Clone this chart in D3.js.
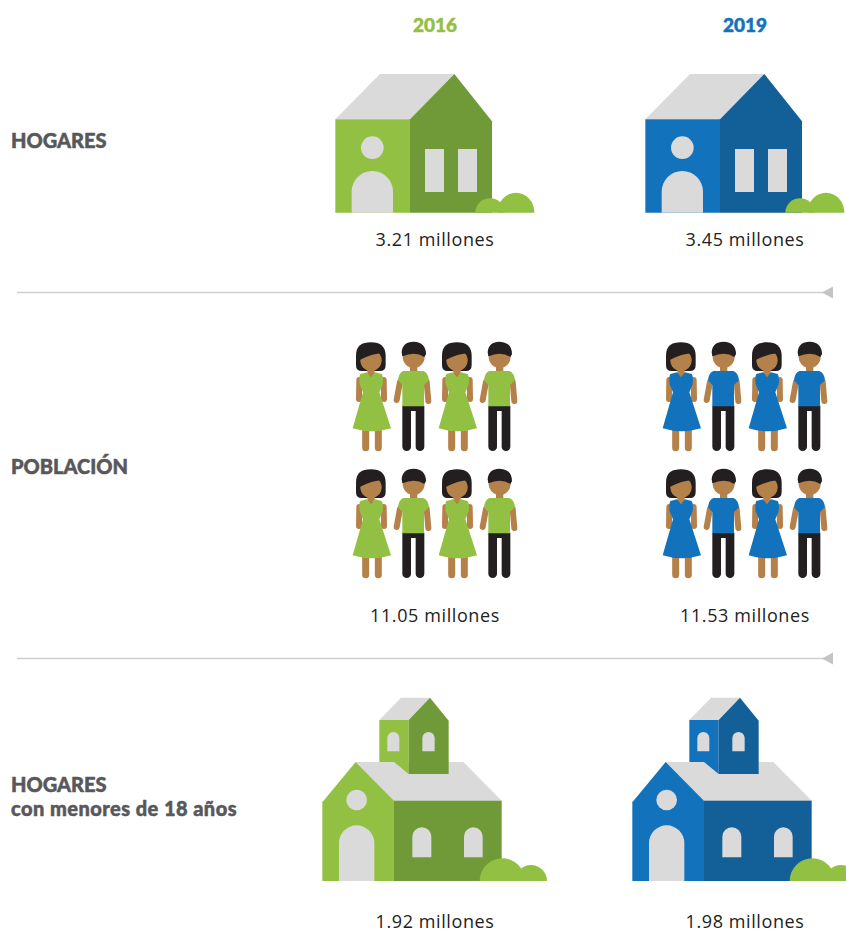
<!DOCTYPE html>
<html>
<head>
<meta charset="utf-8">
<script src="https://cdnjs.cloudflare.com/ajax/libs/d3/7.8.5/d3.min.js"></script>
<style>
html, body { margin: 0; padding: 0; background: #fff; }
svg { display: block; }
.year { font-family: Lato, sans-serif; font-weight: 900; font-size: 19px; text-anchor: middle; stroke-width: .5px; stroke-linejoin: round; }
.rowlabel { font-family: Lato, sans-serif; font-weight: 900; font-size: 20px; fill: #58585a; stroke: #58585a; stroke-width: .5px; stroke-linejoin: round; }
.rowlabel.sub { letter-spacing: .45px; }
.value { font-family: "Open Sans", sans-serif; font-weight: 400; font-size: 18px; letter-spacing: .6px; fill: #222; text-anchor: middle; }
</style>
</head>
<body>
<svg id="chart" width="846" height="931"></svg>
<script>
var years = ["2016", "2019"];
var hogares = [3.21, 3.45];
var poblacion = [11.05, 11.53];
var hogaresMenores = [1.92, 1.98];

var lightColors = ["#92c043", "#1273bc"];
var darkColors = ["#709a38", "#135f98"];
var grey = "#dadada";
var bushColor = "#92c043";
var skin = "#b5814a";
var hair = "#231f20";

var svg = d3.select("#chart");
var x = d3.scalePoint().domain(years).range([435, 745]);
var fmt = d3.format(".2f");

// year headers
svg.selectAll(".year")
    .data(years)
    .enter()
    .append("text")
    .attr("class", "year")
    .attr("x", function (d) { return x(d); })
    .attr("y", 32)
    .attr("fill", function (d, i) { return lightColors[i]; })
    .attr("stroke", function (d, i) { return lightColors[i]; })
    .text(function (d) { return d; });

// row labels on the left
var labels = [
    {text: "HOGARES", y: 147.5, cls: "rowlabel"},
    {text: "POBLACIÓN", y: 473.5, cls: "rowlabel"},
    {text: "HOGARES", y: 792, cls: "rowlabel"},
    {text: "con menores de 18 años", y: 816, cls: "rowlabel sub"}
];
svg.selectAll(".rowlabel")
    .data(labels)
    .enter()
    .append("text")
    .attr("class", function (d) { return d.cls; })
    .attr("x", 11)
    .attr("y", function (d) { return d.y; })
    .text(function (d) { return d.text; });

// separators
[292.5, 658.5].forEach(function (y) {
    svg.append("line")
        .attr("x1", 17).attr("x2", 824)
        .attr("y1", y).attr("y2", y)
        .attr("stroke", "#cfcfcf").attr("stroke-width", 1.6);
    svg.append("path")
        .attr("d", "M822," + y + "L833," + (y - 6) + "V" + (y + 6) + "Z")
        .attr("fill", "#c4c4c4");
});

// value labels
function addValues(values, y) {
    svg.selectAll(null)
        .data(values)
        .enter()
        .append("text")
        .attr("class", "value")
        .attr("x", function (d, i) { return x(years[i]); })
        .attr("y", y)
        .text(function (d) { return fmt(d) + " millones"; });
}
addValues(hogares, 245.5);
addValues(poblacion, 622);
addValues(hogaresMenores, 927.5);

// the icons are drawn in a 3x grid, hence the scale(1/3)
function iconGroup(dx, dy) {
    return svg.append("g").attr("transform", "translate(" + dx + "," + dy + ") scale(" + (1 / 3) + ")");
}

function archWindow(g, x0, x1, top, bottom) {
    var r = (x1 - x0) / 2;
    g.append("path")
        .attr("d", "M" + x0 + "," + bottom + "V" + (top + r) + "A" + r + "," + r + " 0 0 1 " + x1 + "," + (top + r) + "V" + bottom + "Z")
        .attr("fill", grey);
}

function bush(g, cx, rx, top, base) {
    g.append("path")
        .attr("d", "M" + (cx - rx) + "," + base + "A" + rx + "," + (base - top) + " 0 0 1 " + (cx + rx) + "," + base + "Z")
        .attr("fill", bushColor);
}

function smallHouse(year, i) {
    var g = iconGroup(x(year) - 115, 60);
    g.append("path").attr("d", "M46,178L180,42H403L270,178Z").attr("fill", grey);
    g.append("path").attr("d", "M46,178H270V458H46Z").attr("fill", lightColors[i]);
    g.append("path").attr("d", "M270,178L403,42L516,184V458H270Z").attr("fill", darkColors[i]);
    g.append("circle").attr("cx", 157).attr("cy", 263).attr("r", 34).attr("fill", grey);
    archWindow(g, 95, 219, 333, 458);
    g.append("rect").attr("x", 315).attr("y", 267).attr("width", 57).attr("height", 129).attr("fill", grey);
    g.append("rect").attr("x", 414).attr("y", 267).attr("width", 57).attr("height", 129).attr("fill", grey);
    bush(g, 510, 44, 415, 458);
    bush(g, 588, 55, 398, 458);
}

function woman(g, cx, dress) {
    var w = g.append("g").attr("transform", "translate(" + (cx - 78) + ",0)");
    w.append("path").attr("d", "M33,62C33,32 50,22 78,22C106,22 122,35 122,62V90Q122,108 105,108H50Q33,108 33,90Z").attr("fill", hair);
    w.append("rect").attr("x", 67).attr("y", 90).attr("width", 22).attr("height", 40).attr("fill", skin);
    w.append("circle").attr("cx", 78).attr("cy", 76).attr("r", 32).attr("fill", skin);
    w.append("path").attr("d", "M44,75Q46,32 78,30Q110,32 114,54Q80,56 44,75Z").attr("fill", hair);
    [[43, 135, 42, 192], [116, 135, 117, 192], [62, 285, 62, 338], [100, 285, 100, 338]].forEach(function (l, k) {
        w.append("line")
            .attr("x1", l[0]).attr("y1", l[1]).attr("x2", l[2]).attr("y2", l[3])
            .attr("stroke", skin).attr("stroke-width", k < 2 ? 18 : 21).attr("stroke-linecap", "round");
    });
    w.append("path").attr("d", "M46,117L66,112L78,127L90,112L110,117Q116,125 113,148L103,172L138,280Q80,298 23,280L54,172L44,148Q41,125 46,117Z").attr("fill", dress);
}

function man(g, cx, shirt) {
    var m = g.append("g").attr("transform", "translate(" + (cx - 205) + ",0)");
    [[165, 140, 155, 195], [245, 140, 250, 198]].forEach(function (l) {
        m.append("line")
            .attr("x1", l[0]).attr("y1", l[1]).attr("x2", l[2]).attr("y2", l[3])
            .attr("stroke", skin).attr("stroke-width", 18).attr("stroke-linecap", "round");
    });
    m.append("rect").attr("x", 195).attr("y", 85).attr("width", 22).attr("height", 30).attr("fill", skin);
    m.append("circle").attr("cx", 206).attr("cy", 66).attr("r", 33).attr("fill", skin);
    m.append("path").attr("d", "M170,52Q172,20 206,20Q243,22 243,58L238,66Q210,48 172,64Z").attr("fill", hair);
    m.append("path").attr("d", "M172,212H238V335A13,13 0 0 1 212,335V228H198V335A13,13 0 0 1 172,335Z").attr("fill", hair);
    m.append("path").attr("d", "M175,108H235Q250,114 252,136L237,150V214H172V150L159,136Q161,114 175,108Z").attr("fill", shirt);
}

function people(year, i, dy) {
    var g = iconGroup(x(year) - 90, dy);
    woman(g, 78, lightColors[i]);
    man(g, 205, lightColors[i]);
    woman(g, 336, lightColors[i]);
    man(g, 463, lightColors[i]);
}

function bigHouse(year, i) {
    var g = iconGroup(x(year) - 120, 690);
    g.append("path").attr("d", "M193,90L258,23H345L281,90Z").attr("fill", grey);
    g.append("path").attr("d", "M122,216H445L560,332H237Z").attr("fill", grey);
    g.append("path").attr("d", "M193,90H281V252L237,216H193Z").attr("fill", lightColors[i]);
    g.append("path").attr("d", "M281,90L345,23L401,92V252H281Z").attr("fill", darkColors[i]);
    archWindow(g, 217, 253, 126, 184);
    archWindow(g, 322, 359, 126, 184);
    g.append("path").attr("d", "M22,573V337L122,216L237,332V573Z").attr("fill", lightColors[i]);
    g.append("rect").attr("x", 237).attr("y", 332).attr("width", 323).attr("height", 241).attr("fill", darkColors[i]);
    g.append("circle").attr("cx", 125).attr("cy", 330).attr("r", 31).attr("fill", grey);
    archWindow(g, 72, 178, 406, 573);
    archWindow(g, 292, 349, 412, 502);
    archWindow(g, 447, 503, 412, 502);
    bush(g, 562, 68, 505, 573);
    bush(g, 648, 48, 525, 573);
}

years.forEach(function (year, i) {
    smallHouse(year, i);
    people(year, i, 335);
    people(year, i, 462);
    bigHouse(year, i);
});
</script>
</body>
</html>
